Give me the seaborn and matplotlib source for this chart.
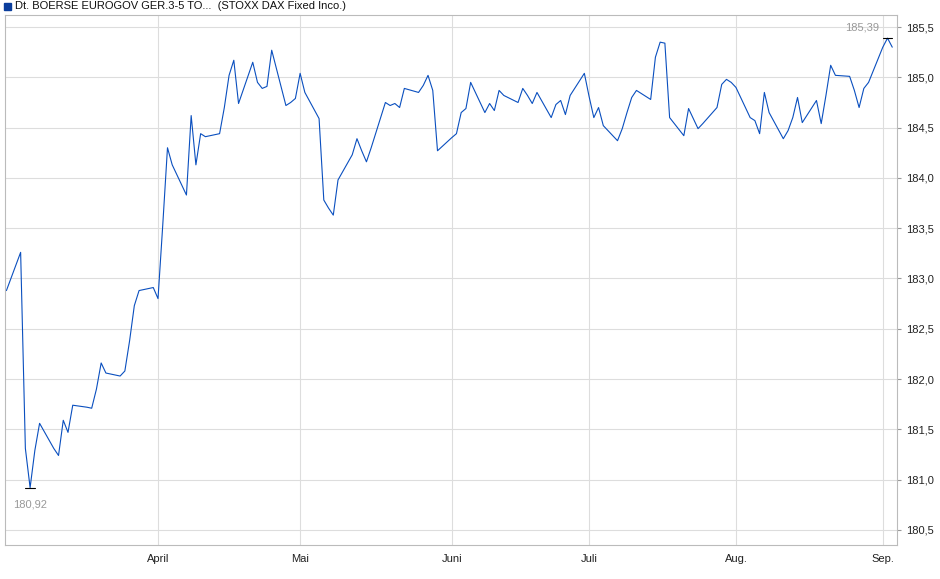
import numpy as np
import pandas as pd
import matplotlib
matplotlib.use("Agg")
import matplotlib.pyplot as plt
import matplotlib.dates as mdates
import seaborn as sns

values = [182.88, 183.26, 181.31, 180.92, 181.29, 181.56, 181.31, 181.24, 181.59, 181.47,
          181.74, 181.72, 181.71, 181.90, 182.16, 182.06, 182.03, 182.08, 182.38, 182.73,
          182.88, 182.91, 182.80, 183.53, 184.30, 184.13, 183.83, 184.62, 184.13, 184.44,
          184.41, 184.44, 184.70, 185.02, 185.17, 184.74, 185.15, 184.95, 184.89, 184.91,
          185.27, 184.72, 184.75, 184.79, 185.04, 184.85, 184.59, 183.78, 183.70, 183.63,
          183.98, 184.23, 184.39, 184.27, 184.16, 184.30, 184.75, 184.72, 184.74, 184.70,
          184.89, 184.85, 184.92, 185.02, 184.87, 184.27, 184.40, 184.44, 184.65, 184.69,
          184.95, 184.65, 184.74, 184.67, 184.87, 184.82, 184.75, 184.89, 184.82, 184.74,
          184.85, 184.60, 184.73, 184.77, 184.63, 184.82, 185.04, 184.81, 184.60, 184.70,
          184.52, 184.37, 184.49, 184.65, 184.80, 184.87, 184.78, 185.20, 185.35, 185.34,
          184.60, 184.42, 184.69, 184.59, 184.49, 184.54, 184.70, 184.93, 184.98, 184.95,
          184.90, 184.60, 184.57, 184.44, 184.85, 184.65, 184.39, 184.47, 184.60, 184.80,
          184.55, 184.77, 184.54, 184.82, 185.12, 185.02, 185.01, 184.87, 184.70, 184.89,
          184.95, 185.30, 185.39, 185.30]
dates = pd.bdate_range(start="2025-02-28", periods=len(values))
month_ticks = ["2025-04-01", "2025-05-01", "2025-06-02", "2025-07-01", "2025-08-01", "2025-09-01"]
month_labels = ["April", "Mai", "Juni", "Juli", "Aug.", "Sep."]
y_ticks = [180.5, 181.0, 181.5, 182.0, 182.5, 183.0, 183.5, 184.0, 184.5, 185.0, 185.5]

df = pd.DataFrame({"date": dates, "value": values})

sns.set_style("white")
plt.rcParams['font.family'] = ['Liberation Sans', 'DejaVu Sans']
fig = plt.figure(figsize=(9.4, 5.79), dpi=100)
ax = fig.add_axes([5 / 940, 34 / 579, 892 / 940, 530 / 579])
sns.lineplot(data=df, x="date", y="value", ax=ax, color="#0a4fbf", linewidth=0.8)

ax.set_xlim(dates[0] - pd.Timedelta(days=0.3), dates[-1] + pd.Timedelta(days=1))
ax.set_ylim(180.35, 185.62)
ax.set_xticks(pd.to_datetime(month_ticks))
ax.set_xticklabels(month_labels)
ax.set_yticks(y_ticks)
ax.set_yticklabels([f"{v:.1f}".replace(".", ",") for v in y_ticks])
ax.yaxis.tick_right()
ax.tick_params(labelsize=8, colors="#222222", length=3, color="#999999")
ax.grid(True, color="#dddddd", linewidth=0.8)
for s in ax.spines.values():
    s.set_color("#bbbbbb")
ax.set_xlabel("")
ax.set_ylabel("")

imax = int(np.argmax(values))
imin = int(np.argmin(values))
for i, dy in [(imax, 8), (imin, -12)]:
    ax.plot([dates[i] - pd.Timedelta(days=1), dates[i] + pd.Timedelta(days=1)],
            [values[i], values[i]], color="black", linewidth=0.8)
    ax.annotate(f"{values[i]:.2f}".replace(".", ","), (dates[i], values[i]),
                xytext=(-6 if i == imax else 0, dy), textcoords="offset points",
                ha="right" if i == imax else "center", va="center",
                fontsize=8, color="#999999")

fig.patches.append(plt.Rectangle((4 / 940, 1 - 10 / 579), 7 / 940, 7 / 579,
                                 transform=fig.transFigure, color="#0a3d9c"))
fig.text(15 / 940, 1 - 6 / 579, "Dt. BOERSE EUROGOV GER.3-5 TO...  (STOXX DAX Fixed Inco.)",
         fontsize=8, va="center", color="#111111")

fig.savefig("out.png", dpi=100)
